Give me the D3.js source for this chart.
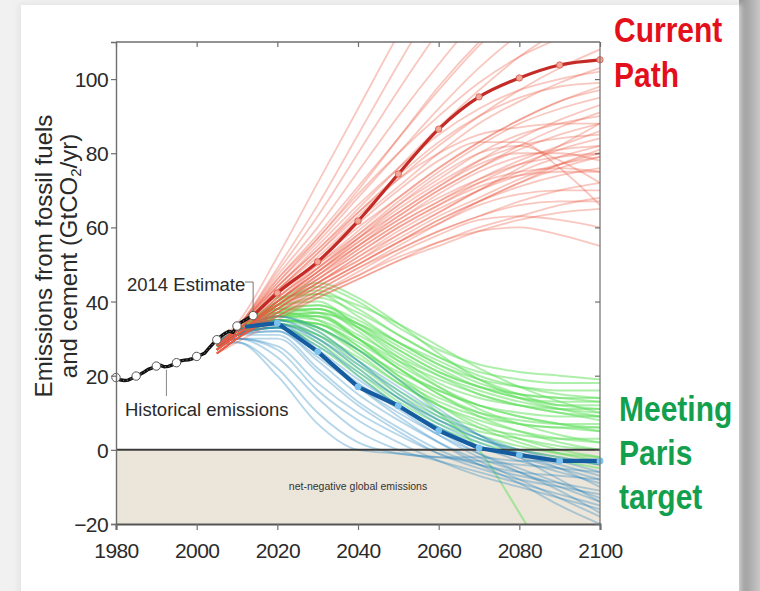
<!DOCTYPE html>
<html>
<head>
<meta charset="utf-8">
<script src="https://cdn.jsdelivr.net/npm/d3@7"></script>
<style>
  html, body { margin: 0; padding: 0; background: #f2f2f2; }
  svg { display: block; }
</style>
</head>
<body>
<svg id="chart" width="760" height="591"></svg>
<script>
// ---- Data -------------------------------------------------------------
// Historical fossil fuel + cement CO2 emissions (GtCO2/yr)
const histYears = [1980,1981,1982,1983,1984,1985,1986,1987,1988,1989,1990,1991,1992,1993,1994,1995,1996,1997,1998,1999,2000,2001,2002,2003,2004,2005,2006,2007,2008,2009,2010,2011,2012,2013,2014];
const histValues = [19.5,18.9,18.7,18.8,19.3,19.9,20.4,21.0,21.7,22.1,22.6,22.8,22.4,22.5,22.9,23.5,24.0,24.2,24.3,24.6,25.2,25.6,26.1,27.4,28.6,29.7,30.6,31.4,32.0,31.7,33.4,34.4,35.0,35.7,36.2];
const histMarkerYears = [1980,1985,1990,1995,2000,2005,2010,2014];

// Scenario runs, sampled at these years
const scenarioYears = [2005,2010,2020,2030,2040,2050,2060,2070,2080,2090,2100];

// "Current path" scenarios
const currentRuns = [
  [29,34,52,72,92,112,130,145,158,168,175],
  [28,33,49,66,85,104,122,138,150,160,168],
  [28,33,48,63,80,97,113,128,140,150,158],
  [28,33,47,60,75,90,104,117,128,137,144],
  [27,32,46,58,71,84,97,109,119,127,133],
  [28,33,45,56,68,80,92,103,112,118,122],
  [28,32,44,54,65,76,87,97,106,113,118],
  [27,32,43,53,63,73,82,90,97,103,108],
  [28,33,44,55,66,76,85,92,97,100,102],
  [27,32,42,51,60,68,76,83,89,94,98],
  [27,31,41,49,57,64,71,78,84,89,93],
  [28,32,42,50,58,66,73,80,85,88,90],
  [27,31,40,48,56,63,70,76,81,85,88],
  [27,31,40,47,54,61,67,73,78,82,86],
  [28,32,41,49,57,65,72,78,82,84,85],
  [27,31,39,46,53,60,66,72,77,81,84],
  [27,31,39,45,52,58,64,70,75,79,82],
  [26,30,38,45,51,57,63,68,73,77,80],
  [27,31,40,48,56,64,71,77,80,80,78],
  [27,31,39,46,53,60,66,71,74,75,75],
  [26,30,38,44,50,56,62,67,72,76,79],
  [27,31,40,48,57,66,74,80,82,78,72],
  [28,32,42,51,61,70,78,83,83,76,66],
  [26,30,37,43,49,54,59,63,67,70,72],
  [26,30,37,42,47,52,56,60,63,66,68],
  [26,30,36,41,46,51,55,59,62,64,65],
  [27,31,38,44,50,56,61,66,69,70,70],
  [26,30,36,42,48,54,59,63,66,67,67],
  [26,30,36,42,47,53,58,62,63,62,60],
  [26,29,35,41,46,51,56,59,60,58,55],
  [27,31,39,47,55,63,70,76,82,87,91],
  [27,31,41,50,59,68,76,83,89,94,97],
  [28,32,43,53,64,74,83,90,95,98,99],
  [27,31,40,49,58,67,75,82,88,92,95],
  [26,30,38,45,52,59,65,70,74,77,79],
  [27,31,39,46,54,61,67,72,75,76,75],
  [28,33,44,54,64,73,80,85,87,88,88],
  [27,31,39,47,55,62,69,75,79,81,82],
  [28,33,46,57,69,80,90,99,106,111,115],
  [27,32,43,52,62,71,80,88,94,99,103],
  [26,30,37,44,50,56,62,67,71,74,76],
  [27,31,40,48,55,62,68,73,77,79,80],
  [27,31,38,45,51,58,64,70,76,82,88],
  [26,30,37,43,49,55,61,67,72,77,81],
  [28,33,45,57,70,84,98,110,120,128,134]
];

// Paris-compatible scenarios (higher-emission family)
const parisGreenRuns = [
  [28,32,39,44,40,33,27,23,21,20,19],
  [28,32,40,43,38,31,25,21,19,18,18],
  [29,33,41,42,36,29,23,19,17,16,16],
  [28,32,38,41,37,31,25,20,17,15,14],
  [28,31,37,39,34,27,21,17,15,14,13],
  [28,32,39,40,33,25,18,14,12,11,11],
  [28,31,36,38,33,26,20,15,12,10,9],
  [28,32,38,37,30,22,16,12,10,9,9],
  [28,31,36,36,30,23,17,12,9,7,6],
  [28,31,37,35,28,20,14,10,8,7,7],
  [28,32,38,38,32,24,17,11,7,4,2],
  [28,31,35,34,27,19,13,9,7,6,6],
  [28,31,36,33,26,18,12,8,5,3,2],
  [28,31,35,32,24,16,10,6,4,3,3],
  [28,31,34,31,23,15,9,5,3,1,0],
  [28,31,36,36,31,25,20,16,13,11,10],
  [28,32,39,42,39,34,28,22,17,13,10],
  [28,31,35,33,27,21,16,12,9,7,5],
  [28,31,34,30,22,14,8,4,1,-1,-2],
  [28,31,35,34,28,20,12,6,2,-1,-3],
  [28,32,37,36,30,22,15,9,5,2,0],
  [28,31,36,37,34,29,24,19,15,12,12],
  [28,31,33,29,21,13,7,3,0,-2,-4],
  [28,31,36,35,30,24,19,15,12,10,8],
  [28,31,35,33,27,19,10,0,-17,-35,-52],
  [28,32,38,39,35,29,23,18,15,14,14],
  [28,31,34,31,25,18,12,7,3,0,-2],
  [28,32,37,38,34,28,22,17,14,13,13],
  [28,31,35,34,29,22,15,10,7,6,5],
  [28,32,40,45,41,34,26,19,14,11,9],
  [28,31,33,28,20,12,6,2,-1,-3,-5],
  [28,32,36,37,33,27,21,17,14,12,11]
];

// Paris-compatible scenarios (deeper-cut family)
const parisBlueRuns = [
  [29,32,34,27,17,12,6,1,-1,-3,-3],
  [29,32,35,30,22,14,7,2,-2,-5,-8],
  [28,31,33,26,18,11,4,-2,-6,-10,-14],
  [28,31,32,24,15,8,2,-3,-8,-13,-18],
  [28,31,34,29,20,12,5,-1,-6,-11,-17],
  [28,31,31,22,13,6,0,-4,-7,-9,-11],
  [29,32,36,32,24,15,8,3,0,-2,-4],
  [28,31,33,27,19,12,6,1,-3,-6,-9],
  [28,30,30,21,12,5,-1,-5,-8,-10,-12],
  [28,31,34,30,23,16,9,4,0,-3,-6],
  [28,30,28,18,10,4,-1,-4,-6,-7,-8],
  [28,31,33,28,21,14,8,3,-1,-4,-7],
  [28,30,27,16,8,2,-3,-7,-10,-13,-16],
  [29,32,35,31,24,17,10,4,-1,-5,-10],
  [28,31,32,25,17,10,4,-1,-5,-9,-13],
  [28,29,22,10,2,-1,-2,-3,-4,-5,-6],
  [28,29,20,7,0,-1,-2,-2,-3,-3,-4],
  [28,30,25,14,5,0,-3,-6,-9,-12,-15],
  [29,32,36,33,27,19,11,4,-2,-8,-14],
  [28,31,33,26,17,9,2,-4,-9,-15,-20]
];

// Median pathways
const currentMedianYears = [2014,2020,2030,2040,2050,2060,2070,2080,2090,2100];
const currentMedian = [36.2,42.3,50.7,61.7,74.4,86.5,95.2,100.3,103.8,105.2];
const parisMedianYears = [2012,2020,2030,2040,2050,2060,2070,2080,2090,2100];
const parisMedian = [33.2,34.2,26.5,17.0,11.9,5.2,0.5,-1.4,-3.0,-3.0];
const medianMarkerYears = [2020,2030,2040,2050,2060,2070,2080,2090,2100];

// Axes
const xTicks = [1980,2000,2020,2040,2060,2080,2100];
const yTicks = [-20,0,20,40,60,80,100];

// ---- Layout -----------------------------------------------------------
const svg = d3.select("#chart");
const W = 760, H = 591;
const plot = { left: 116, right: 600, top: 42, bottom: 524 };

const x = d3.scaleLinear().domain([1980, 2100]).range([plot.left, plot.right]);
const y = d3.scaleLinear().domain([-20, 110]).range([plot.bottom, plot.top]);

const defs = svg.append("defs");
const grad = defs.append("linearGradient").attr("id", "edge").attr("x1", 0).attr("x2", 1);
grad.append("stop").attr("offset", "0%").attr("stop-color", "#909090");
grad.append("stop").attr("offset", "100%").attr("stop-color", "#c8c8c8");
const shadow = defs.append("filter").attr("id", "soft").attr("x", "-5%").attr("y", "-5%").attr("width", "110%").attr("height", "110%");
shadow.append("feGaussianBlur").attr("stdDeviation", 3);
defs.append("clipPath").attr("id", "plotClip")
  .append("rect")
  .attr("x", plot.left).attr("y", plot.top)
  .attr("width", plot.right - plot.left).attr("height", plot.bottom - plot.top);

// Page backdrop
svg.append("rect").attr("x", 0).attr("y", 0).attr("width", W).attr("height", H).attr("fill", "#f1f1f1");
svg.append("rect").attr("x", 739).attr("y", 0).attr("width", 21).attr("height", H).attr("fill", "url(#edge)");
svg.append("rect").attr("x", 19).attr("y", 4).attr("width", 722).attr("height", 600)
  .attr("fill", "#e2e2e2").attr("filter", "url(#soft)");
svg.append("rect").attr("x", 21).attr("y", 5).attr("width", 718).attr("height", 600).attr("fill", "#ffffff");

const font = "Liberation Sans, Arial, sans-serif";

// Net-negative band
svg.append("rect")
  .attr("x", plot.left).attr("y", y(0))
  .attr("width", plot.right - plot.left).attr("height", y(-20) - y(0))
  .attr("fill", "#ece5da");
svg.append("text")
  .attr("x", x(2040)).attr("y", 490)
  .attr("text-anchor", "middle")
  .attr("font-family", font)
  .attr("font-size", 10.5)
  .attr("fill", "#333")
  .text("net-negative global emissions");

// ---- Scenario bundles ---------------------------------------------------
const runLine = d3.line()
  .x((d, i) => x(scenarioYears[i]))
  .y(d => y(d))
  .curve(d3.curveMonotoneX);

const runs = svg.append("g").attr("clip-path", "url(#plotClip)");

runs.append("g").selectAll("path").data(parisGreenRuns).join("path")
  .attr("d", runLine)
  .attr("fill", "none")
  .attr("stroke", "#5ee05a")
  .attr("stroke-opacity", 0.5)
  .attr("stroke-width", 2);

runs.append("g").selectAll("path").data(parisBlueRuns).join("path")
  .attr("d", runLine)
  .attr("fill", "none")
  .attr("stroke", "#2283be")
  .attr("stroke-opacity", 0.33)
  .attr("stroke-width", 1.9);

runs.append("g").selectAll("path").data(currentRuns).join("path")
  .attr("d", runLine)
  .attr("fill", "none")
  .attr("stroke", "#ea5a44")
  .attr("stroke-opacity", 0.34)
  .attr("stroke-width", 1.8);

// Zero line
svg.append("line")
  .attr("x1", plot.left).attr("x2", plot.right)
  .attr("y1", y(0)).attr("y2", y(0))
  .attr("stroke", "#3c3c3c").attr("stroke-width", 2);

// ---- Median pathways ---------------------------------------------------
const medianLine = (yearsArr, curve) => d3.line()
  .x((d, i) => x(yearsArr[i]))
  .y(d => y(d))
  .curve(curve);

svg.append("path")
  .attr("d", medianLine(parisMedianYears, d3.curveLinear)(parisMedian))
  .attr("fill", "none").attr("stroke", "#155ca0").attr("stroke-width", 4.2)
  .attr("stroke-linejoin", "round");
svg.append("g").selectAll("circle")
  .data(medianMarkerYears)
  .join("circle")
  .attr("cx", d => x(d))
  .attr("cy", d => y(parisMedian[parisMedianYears.indexOf(d)]))
  .attr("r", 3.4)
  .attr("fill", "#7cc2ee");

svg.append("path")
  .attr("d", medianLine(currentMedianYears, d3.curveMonotoneX)(currentMedian))
  .attr("fill", "none").attr("stroke", "#c42a26").attr("stroke-width", 3.2);
svg.append("g").selectAll("circle")
  .data(medianMarkerYears)
  .join("circle")
  .attr("cx", d => x(d))
  .attr("cy", d => y(currentMedian[currentMedianYears.indexOf(d)]))
  .attr("r", 3.2)
  .attr("fill", "#f2a898")
  .attr("stroke", "#d8564a")
  .attr("stroke-width", 0.8);

// ---- Historical emissions ---------------------------------------------
const histLine = d3.line()
  .x((d, i) => x(histYears[i]))
  .y(d => y(d));
svg.append("path")
  .attr("d", histLine(histValues))
  .attr("fill", "none").attr("stroke", "#111").attr("stroke-width", 3.4);
svg.append("path")
  .attr("d", histLine(histValues))
  .attr("fill", "none").attr("stroke", "#fff").attr("stroke-width", 0.8)
  .attr("stroke-dasharray", "1.2,2.6").attr("stroke-opacity", 0.55);
svg.append("g").selectAll("circle")
  .data(histMarkerYears)
  .join("circle")
  .attr("cx", d => x(d))
  .attr("cy", d => y(histValues[histYears.indexOf(d)]))
  .attr("r", 4.2)
  .attr("fill", "#fff")
  .attr("stroke", "#555")
  .attr("stroke-width", 1);

// ---- Axes / frame ------------------------------------------------------
const axisColor = "#6e6e6e";

const frame = svg.append("g").attr("stroke", axisColor).attr("fill", "none");
frame.append("line").attr("x1", plot.left).attr("x2", plot.right).attr("y1", plot.top).attr("y2", plot.top).attr("stroke-width", 1.4);
frame.append("line").attr("x1", plot.right).attr("x2", plot.right).attr("y1", plot.top).attr("y2", plot.bottom).attr("stroke-width", 1.2);

const xAxis = svg.append("g")
  .attr("transform", `translate(0,${plot.bottom})`)
  .call(d3.axisBottom(x).tickValues(xTicks).tickFormat(d3.format("d")).tickSize(6));
const yAxis = svg.append("g")
  .attr("transform", `translate(${plot.left},0)`)
  .call(d3.axisLeft(y).tickValues(yTicks).tickSize(5).tickPadding(3));

const xTop = svg.append("g")
  .attr("transform", `translate(0,${plot.top})`)
  .call(d3.axisBottom(x).tickValues(xTicks).tickSize(5).tickFormat(""));
const yRight = svg.append("g")
  .attr("transform", `translate(${plot.right},0)`)
  .call(d3.axisLeft(y).tickValues(yTicks).tickSize(5).tickFormat(""));
xTop.select(".domain").remove();
yRight.select(".domain").remove();

[xAxis, yAxis, xTop, yRight].forEach(g => {
  g.selectAll("line").attr("stroke", axisColor).attr("stroke-width", 1.2);
  g.selectAll(".domain").attr("stroke", axisColor).attr("stroke-width", 1.4);
  g.selectAll("text")
    .attr("font-family", font)
    .attr("font-size", 21)
    .attr("letter-spacing", "-0.6px")
    .attr("fill", "#2a2a2a");
});
xAxis.select(".domain").attr("stroke", "#555").attr("stroke-width", 2);
xAxis.selectAll("text").attr("y", 34).attr("dy", 0);
yAxis.selectAll("text").attr("dy", "0.36em");

// Axis title
const yTitle = svg.append("text")
  .attr("transform", `translate(0,256) rotate(-90)`)
  .attr("text-anchor", "middle")
  .attr("font-family", font)
  .attr("font-size", 24)
  .attr("fill", "#2a2a2a");
yTitle.append("tspan").attr("x", 0).attr("y", 52).text("Emissions from fossil fuels");
const l2 = yTitle.append("tspan").attr("x", 0).attr("y", 77);
l2.append("tspan").text("and cement (GtCO");
l2.append("tspan").attr("font-size", 15).attr("dy", 4).text("2");
l2.append("tspan").attr("dy", -4).text("/yr)");

// ---- Annotations -------------------------------------------------------
svg.append("text")
  .attr("x", 127).attr("y", 291)
  .attr("font-family", font).attr("font-size", 18.5).attr("fill", "#2a2a2a")
  .text("2014 Estimate");
svg.append("path")
  .attr("d", `M245,282H${x(2014)}V${y(36.2) - 4.5}`)
  .attr("fill", "none").attr("stroke", "#777").attr("stroke-width", 1);

svg.append("text")
  .attr("x", 125).attr("y", 416)
  .attr("font-family", font).attr("font-size", 18.5).attr("fill", "#2a2a2a")
  .text("Historical emissions");
svg.append("line")
  .attr("x1", x(1992.5)).attr("x2", x(1992.5))
  .attr("y1", y(22.4) + 3).attr("y2", 396)
  .attr("stroke", "#888").attr("stroke-width", 1);

// Scenario family labels
const bigLabel = (lines, x0, baselines, color) => {
  lines.forEach((t, i) => {
    svg.append("text")
      .attr("transform", `translate(${x0},${baselines[i]}) scale(1,1.15)`)
      .attr("font-family", font)
      .attr("font-weight", "bold")
      .attr("font-size", 30)
      .attr("fill", color)
      .text(t);
  });
};
bigLabel(["Current", "Path"], 614, [42, 87], "#e3101c");
bigLabel(["Meeting", "Paris", "target"], 619, [421, 465, 509], "#13a04e");
</script>
</body>
</html>
